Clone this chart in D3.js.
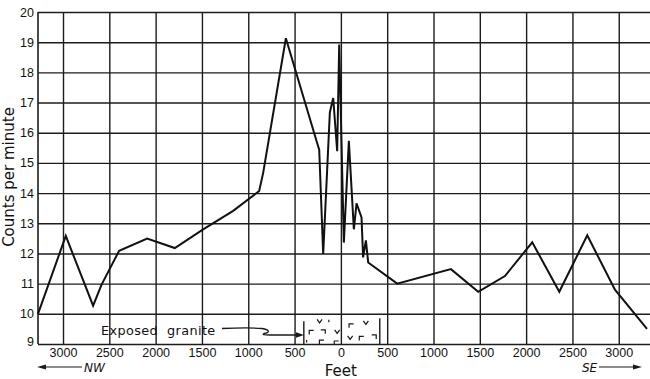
<!DOCTYPE html>
<html lang="en">
  <head>
    <meta charset="UTF-8" />
    <title>Counts per minute profile</title>
    <script src="https://d3js.org/d3.v7.min.js"></script>
    <style>
      body {
        margin: 0;
        background: #fff;
      }
      svg {
        display: block;
        font-family: "DejaVu Sans", sans-serif;
      }
      .grid line {
        stroke: #1c1c1c;
        stroke-width: 1.4;
      }
      .tick text {
        fill: #111;
        font-size: 12.5px;
      }
    </style>
  </head>
  <body>
    <div id="chart"></div>
    <script>
      // distance along the traverse in feet (NW negative, SE positive)
      const feet = [
        -3270, -2970, -2675, -2585, -2394, -2092, -1793, -1487, -1163, -882,
        -839, -594, -262, -234, -191, -119, -83, -40, -18, 32, 86, 140, 169,
        223, 240, 270, 295, 608, 1188, 1483, 1771, 2066, 2358, 2660, 2959, 3305
      ];
      const counts = [
        10.0, 12.58, 10.27, 10.96, 12.09, 12.49, 12.18, 12.8, 13.41, 14.07,
        14.67, 19.13, 15.72, 15.44, 11.98, 16.67, 17.15, 15.39, 18.92, 12.36,
        15.73, 12.8, 13.66, 13.19, 11.87, 12.43, 11.7, 11.0, 11.48, 10.73,
        11.25, 12.37, 10.73, 12.6, 10.8, 9.5
      ];
      const xTicks = d3.range(-3000, 3001, 500);
      const yTicks = d3.range(9, 21, 1);

      // exposed granite band and its symbols
      const graniteRange = [-400, 420];
      const graniteMarks = [
        [-230, 9.75, "v"], [-130, 9.75, "'"], [-320, 9.4, "r"], [-190, 9.42, "7"],
        [-40, 9.4, "v"], [-210, 9.08, "r"], [-50, 9.05, "r"], [-370, 9.08, "'"],
        [110, 9.62, "r"], [270, 9.7, "v"], [100, 9.2, "v"], [220, 9.2, "r"],
        [360, 9.25, "7"]
      ];

      const width = 650;
      const height = 379;
      const m = { left: 38, right: 647, top: 12, bottom: 344 };

      const svg = d3
        .select("#chart")
        .append("svg")
        .attr("width", width)
        .attr("height", height);

      const x = d3.scaleLinear().domain([-3270, 3305]).range([m.left, m.right]);
      const y = d3.scaleLinear().domain([9, 20]).range([m.bottom, m.top]);

      // grid + axes
      svg
        .append("g")
        .attr("class", "grid")
        .attr("transform", `translate(0,${m.bottom})`)
        .call(
          d3.axisBottom(x)
            .tickValues(xTicks)
            .tickSize(-(m.bottom - m.top))
            .tickPadding(4)
            .tickFormat((d) => Math.abs(d))
        )
        .call((g) => g.select(".domain").remove())
        .call((g) => g.selectAll("text").attr("dy", "0.74em"));

      svg
        .append("g")
        .attr("class", "grid")
        .attr("transform", `translate(${m.left},0)`)
        .call(
          d3.axisLeft(y)
            .tickValues(yTicks)
            .tickSize(-(m.right - m.left + 3))
            .tickPadding(4)
        )
        .call((g) => g.select(".domain").remove())
        .call((g) =>
          g.selectAll(".tick")
            .filter((d) => d === 9)
            .select("text")
            .attr("dy", "0.12em")
        );

      svg
        .append("line")
        .attr("x1", m.left)
        .attr("x2", m.left)
        .attr("y1", m.top)
        .attr("y2", m.bottom)
        .attr("stroke", "#1c1c1c")
        .attr("stroke-width", 1.6);

      // data line
      const line = d3
        .line()
        .x((d, i) => x(feet[i]))
        .y((d) => y(d));

      svg
        .append("path")
        .datum(counts)
        .attr("d", line)
        .attr("fill", "none")
        .attr("stroke", "#111")
        .attr("stroke-width", 2)
        .attr("stroke-linejoin", "miter");

      // exposed granite annotation
      const ink = "#1a1a1a";
      graniteRange.forEach((f, i) => {
        svg
          .append("line")
          .attr("x1", x(f))
          .attr("x2", x(f))
          .attr("y1", y(i === 0 ? 9.75 : 9.85))
          .attr("y2", m.bottom)
          .attr("stroke", ink)
          .attr("stroke-width", 1.4);
      });

      const markPath = {
        v: "M-2.5,-2 L0,1.5 L2.5,-2",
        r: "M-2,2.5 L-2,-1.5 L2.5,-1.5",
        7: "M-2.5,-1.5 L2,-1.5 L2,2.5",
        "'": "M0,-1.5 L0,1"
      };
      svg
        .append("g")
        .selectAll("path")
        .data(graniteMarks)
        .join("path")
        .attr("transform", (d) => `translate(${x(d[0])},${y(d[1])})`)
        .attr("d", (d) => markPath[d[2]])
        .attr("fill", "none")
        .attr("stroke", ink)
        .attr("stroke-width", 1.2);

      svg
        .append("text")
        .attr("x", 101)
        .attr("y", 335)
        .attr("font-size", 12.8)
        .attr("letter-spacing", 0.4)
        .attr("fill", "#111")
        .attr("xml:space", "preserve")
        .text("Exposed  granite");

      svg
        .append("path")
        .attr(
          "d",
          "M222,328.5 C235,328 250,327.5 262,328.5 C270,329.5 270,333 264,333.5 C262,334.5 264,335 270,335 L299,335"
        )
        .attr("fill", "none")
        .attr("stroke", ink)
        .attr("stroke-width", 1.3);
      svg
        .append("path")
        .attr("d", "M304,335 L296,332.3 L296,337.7 Z")
        .attr("fill", ink);

      // axis titles
      svg
        .append("text")
        .attr("transform", "translate(14,177) rotate(-90)")
        .attr("text-anchor", "middle")
        .attr("font-size", 15)
        .attr("fill", "#111")
        .text("Counts per minute");

      svg
        .append("text")
        .attr("x", x(0))
        .attr("y", 376)
        .attr("text-anchor", "middle")
        .attr("font-size", 15)
        .attr("fill", "#111")
        .text("Feet");

      // direction arrows
      svg
        .append("line")
        .attr("x1", 42).attr("x2", 82).attr("y1", 367).attr("y2", 367)
        .attr("stroke", ink).attr("stroke-width", 1.2);
      svg.append("path").attr("d", "M37,367 L46,364.5 L46,369.5 Z").attr("fill", ink);
      svg
        .append("text")
        .attr("x", 84).attr("y", 371.5)
        .attr("font-size", 12).attr("font-style", "italic").attr("fill", "#111")
        .text("NW");

      svg
        .append("text")
        .attr("x", 582).attr("y", 371.5)
        .attr("font-size", 12).attr("font-style", "italic").attr("fill", "#111")
        .text("SE");
      svg
        .append("line")
        .attr("x1", 599).attr("x2", 636).attr("y1", 367).attr("y2", 367)
        .attr("stroke", ink).attr("stroke-width", 1.2);
      svg.append("path").attr("d", "M642,367 L633,364.5 L633,369.5 Z").attr("fill", ink);
    </script>
  </body>
</html>
